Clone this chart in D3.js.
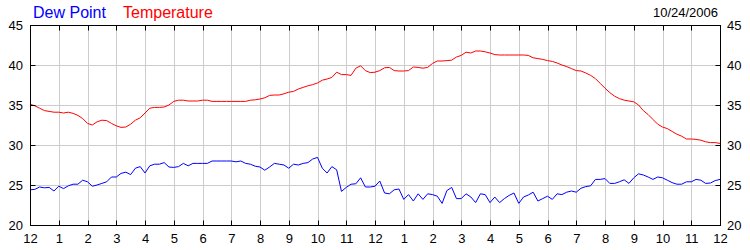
<!DOCTYPE html>
<html>
<head>
<meta charset="utf-8">
<script src="https://cdn.jsdelivr.net/npm/d3@7"></script>
<style>
  body { margin: 0; background: #fff; }
  svg text { font-family: "Liberation Sans", Arial, sans-serif; }
</style>
</head>
<body>
<svg id="chart" width="750" height="250"></svg>
<script>
// readings every 10 minutes, midnight to midnight
var temperature = [
  35.1, 34.9, 34.6, 34.3, 34.2, 34.1, 34.1, 34.0, 34.1, 33.95, 33.7, 33.3,
  32.7, 32.5, 32.9, 33.1, 33.05, 32.7, 32.4, 32.2, 32.25, 32.6, 33.1, 33.4,
  34.0, 34.6, 34.7, 34.7, 34.75, 35.0, 35.45, 35.6, 35.6, 35.5, 35.5, 35.5,
  35.6, 35.6, 35.45, 35.45, 35.45, 35.45, 35.45, 35.45, 35.45, 35.45, 35.6, 35.65,
  35.75, 35.9, 36.2, 36.25, 36.25, 36.4, 36.6, 36.7, 37.0, 37.2, 37.4, 37.55,
  37.75, 38.1, 38.25, 38.45, 39.1, 38.8, 38.8, 38.7, 39.6, 39.9, 39.3, 39.05,
  39.1, 39.3, 39.65, 39.7, 39.3, 39.25, 39.25, 39.3, 39.75, 39.7, 39.6, 39.7,
  40.2, 40.5, 40.5, 40.55, 40.6, 41.0, 41.2, 41.6, 41.5, 41.75, 41.75, 41.65,
  41.5, 41.3, 41.25, 41.25, 41.25, 41.25, 41.25, 41.25, 41.2, 40.9, 40.8, 40.7,
  40.55, 40.45, 40.25, 40.0, 39.8, 39.55, 39.3, 39.25, 39.0, 38.7, 38.3, 37.7,
  37.1, 36.55, 36.1, 35.8, 35.6, 35.5, 35.4, 35.0, 34.3, 33.8, 33.2, 32.6,
  32.25, 32.05, 31.7, 31.35, 31.1, 30.75, 30.75, 30.7, 30.6, 30.4, 30.3, 30.3,
  30.2
];

var dewPoint = [
  24.4, 24.45, 24.75, 24.65, 24.7, 24.25, 24.85, 24.55, 24.9, 25.1, 25.1, 25.6,
  25.4, 24.85, 25.0, 25.2, 25.4, 26.0, 26.0, 26.45, 26.6, 26.3, 27.1, 27.3,
  26.5, 27.4, 27.6, 27.6, 27.8, 27.25, 27.2, 27.3, 27.7, 27.4, 27.7, 27.7,
  27.7, 27.7, 28.0, 28.0, 28.0, 28.0, 28.0, 27.9, 28.0, 27.7, 27.6, 27.35,
  27.25, 26.85, 27.25, 27.7, 27.6, 27.5, 27.1, 27.6, 27.5, 27.7, 27.8, 28.25,
  28.45, 27.1, 26.5, 27.3, 26.9, 24.2, 24.7, 25.1, 25.15, 25.9, 24.75, 24.75,
  24.85, 25.5, 24.0, 23.9, 24.4, 24.5, 23.2, 23.8, 23.0, 23.9, 23.2, 23.9,
  23.8, 23.6, 22.7, 24.3, 24.7, 23.3, 23.3, 23.9, 23.5, 22.8, 23.9, 23.8,
  22.8, 23.5, 22.8, 23.3, 23.7, 24.0, 22.7, 23.5, 23.75, 24.1, 23.0, 23.3,
  23.6, 23.2, 23.9, 23.8, 24.1, 24.25, 24.1, 24.6, 24.8, 24.9, 25.7, 25.7,
  25.8, 25.2, 25.2, 25.4, 25.65, 25.2, 25.9, 26.4, 26.25, 26.0, 25.7, 26.0,
  25.9, 25.6, 25.3, 25.1, 25.1, 25.4, 25.4, 25.7, 25.6, 25.2, 25.25, 25.55,
  25.7
];

var hourLabels = ["12", "1", "2", "3", "4", "5", "6", "7", "8", "9", "10", "11",
                  "12", "1", "2", "3", "4", "5", "6", "7", "8", "9", "10", "11", "12"];
var yTicks = [20, 25, 30, 35, 40, 45];
var dateLabel = "10/24/2006";

var margin = {left: 30, right: 30, top: 25, bottom: 25};
var W = 750, H = 250;

var svg = d3.select("#chart");

var x = d3.scaleLinear().domain([0, 24]).range([margin.left, W - margin.right]);
var y = d3.scaleLinear().domain([20, 45]).range([H - margin.bottom, margin.top]);

function crisp(v){ return Math.round(v) + 0.5; }

var x0 = crisp(x(0)), x1 = crisp(x(24)), y0 = crisp(y(20)), y1 = crisp(y(45));

// grid
var grid = svg.append("g").attr("stroke", "#cccccc").attr("stroke-width", 1);
grid.selectAll("line.v").data(d3.range(1, 24)).enter().append("line")
    .attr("x1", function(d){ return crisp(x(d)); })
    .attr("x2", function(d){ return crisp(x(d)); })
    .attr("y1", y1).attr("y2", y0);
grid.selectAll("line.h").data(yTicks.slice(1, -1)).enter().append("line")
    .attr("x1", x0).attr("x2", x1)
    .attr("y1", function(d){ return crisp(y(d)); })
    .attr("y2", function(d){ return crisp(y(d)); });

// series
var line = d3.line()
    .x(function(d, i){ return x(i / 6); })
    .y(function(d){ return y(d); });

svg.append("path").datum(temperature)
    .attr("fill", "none").attr("stroke", "#ff0000").attr("stroke-width", 1)
    .attr("d", line);
svg.append("path").datum(dewPoint)
    .attr("fill", "none").attr("stroke", "#0000ff").attr("stroke-width", 1)
    .attr("d", line);

// frame + inward ticks
var axes = svg.append("g").attr("stroke", "#000").attr("stroke-width", 1);
axes.append("rect")
    .attr("x", x0).attr("y", y1)
    .attr("width", x1 - x0).attr("height", y0 - y1)
    .attr("fill", "none");
axes.selectAll("line.bt").data(d3.range(1, 24)).enter().append("line")
    .attr("x1", function(d){ return crisp(x(d)); })
    .attr("x2", function(d){ return crisp(x(d)); })
    .attr("y1", y0).attr("y2", y0 - 5);
axes.selectAll("line.tt").data(d3.range(1, 24)).enter().append("line")
    .attr("x1", function(d){ return crisp(x(d)); })
    .attr("x2", function(d){ return crisp(x(d)); })
    .attr("y1", y1).attr("y2", y1 + 5);
axes.selectAll("line.lt").data(yTicks.slice(1, -1)).enter().append("line")
    .attr("x1", x0).attr("x2", x0 + 5)
    .attr("y1", function(d){ return crisp(y(d)); })
    .attr("y2", function(d){ return crisp(y(d)); });
axes.selectAll("line.rt").data(yTicks.slice(1, -1)).enter().append("line")
    .attr("x1", x1).attr("x2", x1 - 5)
    .attr("y1", function(d){ return crisp(y(d)); })
    .attr("y2", function(d){ return crisp(y(d)); });

// labels
var labels = svg.append("g").attr("font-size", 13).attr("fill", "#000");
labels.selectAll("text.yl").data(yTicks).enter().append("text")
    .attr("x", x(0) - 7).attr("y", function(d){ return y(d) + 4.5; })
    .attr("text-anchor", "end").text(function(d){ return d; });
labels.selectAll("text.yr").data(yTicks).enter().append("text")
    .attr("x", x(24) + 7).attr("y", function(d){ return y(d) + 4.5; })
    .attr("text-anchor", "start").text(function(d){ return d; });
labels.selectAll("text.xl").data(hourLabels).enter().append("text")
    .attr("x", function(d, i){ return x(i) + 0.5; }).attr("y", 243)
    .attr("text-anchor", "middle").text(function(d){ return d; });

labels.append("text").attr("x", 718).attr("y", 17)
    .attr("text-anchor", "end").text(dateLabel);

// legend
svg.append("text").attr("x", 33).attr("y", 18).attr("font-size", 16)
    .attr("fill", "#0000ff").text("Dew Point");
svg.append("text").attr("x", 123).attr("y", 18).attr("font-size", 16)
    .attr("fill", "#ff0000").text("Temperature");
</script>
</body>
</html>
